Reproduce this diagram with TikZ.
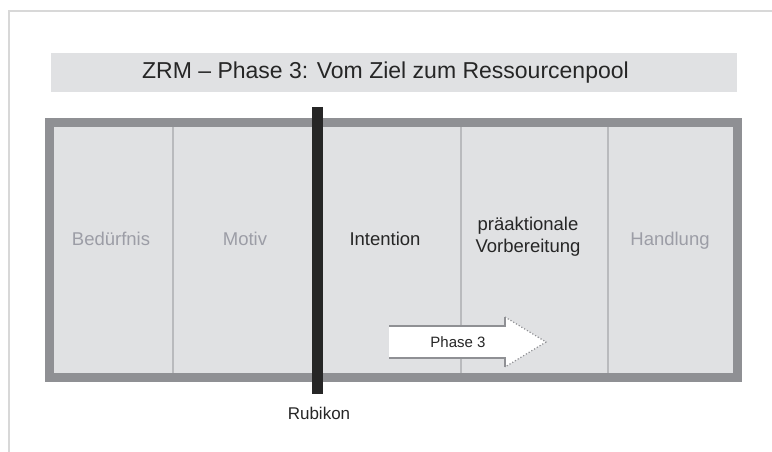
\documentclass[tikz,border=0pt]{standalone}
\usepackage{fontspec}
\setmainfont{Liberation Sans}
\usetikzlibrary{positioning}
\definecolor{panelgray}{HTML}{E0E1E3}
\definecolor{framegray}{HTML}{8F9094}
\definecolor{dividergray}{HTML}{B9BABD}
\definecolor{pagegray}{HTML}{D8D8D8}
\definecolor{labelgray}{HTML}{9C9DA6}
\definecolor{textdark}{HTML}{262626}

\tikzset{
	stagelabel/.style={font=\fontsize{18.5}{22}\selectfont, align=center},
	faded/.style={stagelabel, text=labelgray, anchor=base},
	active/.style={stagelabel, text=textdark},
}

\begin{document}
\begin{tikzpicture}[x=1pt, y=-1pt]
		\useasboundingbox (0,0) rectangle (772,452);
		\draw [pagegray, line width=2] (9,452) -- (9,11) -- (772,11);
		
		\fill [panelgray] (51,53) rectangle (737,92);
		\node (title) [text=textdark, font=\fontsize{23}{26}\selectfont] at (385.5,73) {ZRM -- Phase 3: Vom Ziel zum Ressourcenpool};
		
		\draw [framegray, line width=9, fill=panelgray] (49.5,122.5) rectangle (737.5,377.5);
		\foreach \x in {173,461,608}
			\draw [dividergray, line width=2.5] (\x,127) -- (\x,373);
		
		\node (beduerfnis) [faded] at (111,245.5) {Bedürfnis};
		\node (motiv) [faded] at (245,245.5) {Motiv};
		\node (intention) [active, anchor=base] at (385,245.5) {Intention};
		\node (vorbereitung) [active] at (528,237) {präaktionale\\Vorbereitung};
		\node (handlung) [faded] at (670,245.5) {Handlung};
		
	%	Rubikon
		\coordinate (rtop) at (317.5,107);
		\coordinate (rbot) at (317.5,394);
		\draw [textdark, line width=11] (rtop) -- (rbot);
		\node (rubikon) [text=textdark, font=\fontsize{17}{20}\selectfont] at (319,413) {Rubikon};
		
		\fill [white] (389,326) -- (505,326) -- (505,317) -- (546,342) -- (505,367) -- (505,358) -- (389,358) -- cycle;
		\draw [framegray, line width=1.2] (389,326) -- (505,326) -- (505,317);
		\draw [framegray, line width=1.2, dotted] (505,317) -- (546,342) -- (505,367);
		\draw [framegray, line width=1.2] (505,367) -- (505,358) -- (389,358);
		\node (phase) [text=textdark, font=\fontsize{15}{18}\selectfont] at (458,342) {Phase 3};
	\end{tikzpicture}
\end{document}
